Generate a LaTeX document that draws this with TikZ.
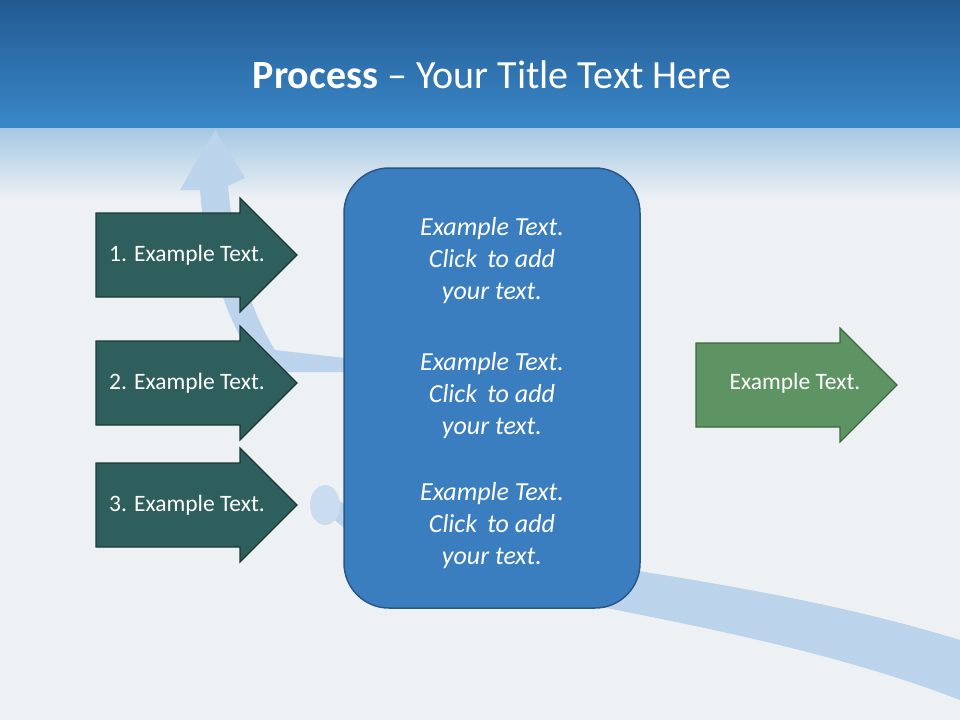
\documentclass[tikz,border=0pt]{standalone}
\usepackage{fontspec}
\setmainfont{Carlito}
\definecolor{bandtop}{HTML}{235A92}
\definecolor{bandbot}{HTML}{3A88C9}
\definecolor{bg}{HTML}{EDF1F4}
\definecolor{teal}{HTML}{2F5F5C}
\definecolor{tealb}{HTML}{1C3837}
\definecolor{boxc}{HTML}{3A7EBF}
\definecolor{boxb}{HTML}{2A5786}
\definecolor{grn}{HTML}{5E9463}
\definecolor{grnb}{HTML}{3A6A3E}
\definecolor{swoosh}{HTML}{BCD3EC}
\tikzset{
 arrtext/.style={text=white, font=\fontsize{23.5}{26}\selectfont},
 ctext/.style={text=white, align=center, font=\fontsize{26}{32}\selectfont\itshape},
 larr/.style={fill=teal, draw=tealb, line width=1.2pt},
 rarr/.style={fill=grn, draw=grnb, line width=1.2pt}
}
\newcommand{\arrowpath}[2]{% #1 x0, #2 y centre
 (#1,#2-42) -- (#1+144,#2-42) -- (#1+144,#2-57) -- (#1+201,#2) -- (#1+144,#2+57) -- (#1+144,#2+42) -- (#1,#2+42) -- cycle}
\begin{document}
\begin{tikzpicture}[x=1pt,y=-1pt]
\useasboundingbox (0,0) rectangle (960,720);
\fill[bg] (0,0) rectangle (960,720);
\shade[top color=bandtop, bottom color=bandbot] (0,0) rectangle (960,128);
\shade[top color=bandbot!40!bg, bottom color=bg] (0,128) rectangle (960,200);
% background swoosh
\fill[swoosh] (330,495) .. controls (420,560) and (700,560) .. (960,640) -- (960,700) .. controls (700,600) and (400,600) .. (325,510) -- cycle;
\fill[swoosh!80!white] (325,505) ellipse (15pt and 20pt);
\fill[swoosh] (345,372) -- (262,372) .. controls (230,330) and (205,260) .. (200,190) -- (180,190) -- (215,130) -- (245,178) -- (228,186) .. controls (235,260) and (250,310) .. (275,350) -- (345,358) -- cycle;
% title
\node (title) at (492,75) {\color{white}\fontsize{40}{46}\selectfont\textbf{Process} – Your Title Text Here};
% left arrows
\draw[larr] \arrowpath{96}{255};
\draw[larr] \arrowpath{96}{383};
\draw[larr] \arrowpath{96}{505};
\node[arrtext] (a1) at (187,255) {1. Example Text.};
\node[arrtext] (a2) at (187,383) {2. Example Text.};
\node[arrtext] (a3) at (187,505) {3. Example Text.};
% center box
\draw[fill=boxc, draw=boxb, line width=1.5pt, rounded corners=45pt] (344,168) rectangle (640,608);
\node[ctext] (t1) at (492,261) {Example Text.\\Click\, to add\\your text.};
\node[ctext] (t2) at (492,396) {Example Text.\\Click\, to add\\your text.};
\node[ctext] (t3) at (492,526) {Example Text.\\Click\, to add\\your text.};
% right arrow
\draw[rarr] \arrowpath{696}{385};
\node[arrtext] (r) at (795,383) {Example Text.};
\end{tikzpicture}
\end{document}
